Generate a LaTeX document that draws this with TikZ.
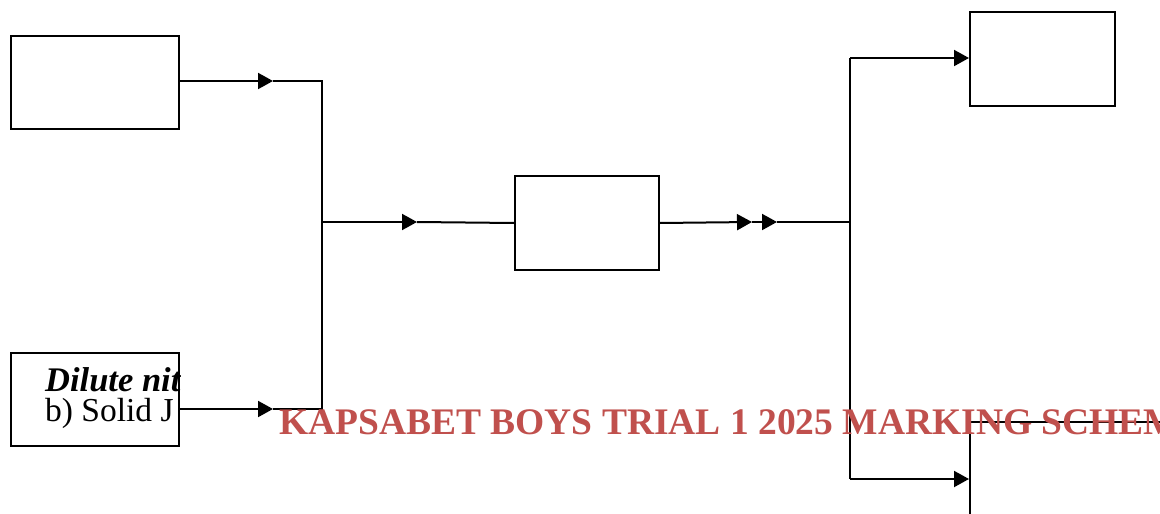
\documentclass[tikz,border=0pt]{standalone}
\usepackage{fontspec}
\setmainfont{Liberation Serif}
\usetikzlibrary{arrows.meta}
\definecolor{stampred}{HTML}{C0504D}
\tikzset{
  box/.style={draw, line width=2pt, inner sep=0pt, anchor=north west},
  wire/.style={line width=2pt},
  arr/.style={wire, -{Triangle[length=15pt,width=16pt]}},
}
\begin{document}
\begin{tikzpicture}[x=1pt,y=-1pt]
\clip (0,0) rectangle (1160,514);
\fill[white] (0,0) rectangle (1160,514);

% process boxes
\node[box, minimum width=168pt, minimum height=93pt] (A) at (10,35) {};
\node[box, minimum width=168pt, minimum height=93pt] (B) at (10,352) {};
\node[box, minimum width=144pt, minimum height=94pt] (C) at (514,175) {};
\node[box, minimum width=145pt, minimum height=94pt] (D) at (969,11) {};
\node[box, minimum width=300pt, minimum height=200pt] (E) at (969,421) {};

% text inside the lower left box, cut off at its edge
\begin{scope}
\clip (B.north west) rectangle (B.south east);
\node[anchor=base west, inner sep=0pt, font=\fontsize{34.5}{36}\selectfont\bfseries\itshape] (Bt1) at (45,391) {Dilute nit};
\node[anchor=base west, inner sep=0pt, font=\fontsize{33.5}{35}\selectfont] (Bt2) at (45,421) {b) Solid J};
\end{scope}

% left merge
\coordinate (tA) at (273,81);
\coordinate (tB) at (273,409);
\coordinate (jA) at (322,81);
\coordinate (jB) at (322,409);
\coordinate (jM) at (322,222);
\coordinate (tM) at (417,222);
\draw[arr] (A.east |- tA) -- (tA);
\draw[arr] (B.east |- tB) -- (tB);
\draw[wire] (tA) -- (jA) -- (jB) -- (tB);
\draw[arr] (jM) -- (tM);
\draw[wire] (tM) -- (C.west);

% right split
\coordinate (t1) at (752,222);
\coordinate (t2) at (777,222);
\coordinate (jR) at (850,222);
\coordinate (jD) at (850,58);
\coordinate (jE) at (850,479);
\draw[arr] (C.east) -- (t1);
\draw[arr] (t1) -- (t2);
\draw[wire] (t2) -- (jR);
\draw[wire] (jD) -- (jE);
\draw[arr] (jD) -- (D.west |- jD);
\draw[arr] (jE) -- (E.west |- jE);

% header stamp
\node[anchor=base west, inner sep=0pt, text=stampred, font=\fontsize{37.5}{40}\selectfont\bfseries] (stamp) at (279,434) {KAPSABET BOYS TRIAL 1 2025 MARKING SCHEME};
\end{tikzpicture}
\end{document}
